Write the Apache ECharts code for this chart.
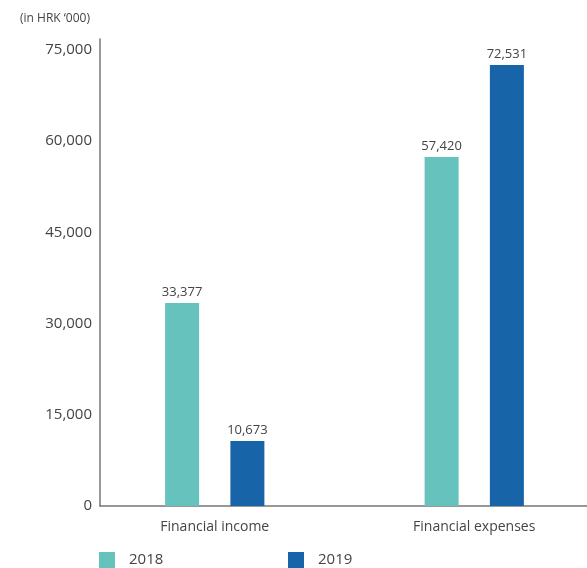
<!DOCTYPE html>
<html><head><meta charset="utf-8">
<script src="https://cdn.jsdelivr.net/npm/echarts@6/dist/echarts.min.js"></script>
<style>html,body{margin:0;padding:0;background:#fff;overflow:hidden;width:587px;height:568px}#c{width:604px;height:568px}</style>
</head><body><div id="c"></div>
<script>
const categories = ['Financial income', 'Financial expenses'];
const values2018 = [33377, 57420];
const values2019 = [10673, 72531];
const seriesNames = ['2018', '2019'];
const yTicks = [0, 15000, 30000, 45000, 60000, 75000];

const font = '"Open Sans", "Noto Sans", sans-serif';
const txt = '#444';
const fmt = v => v.toLocaleString('en-US');
const chart = echarts.init(document.getElementById('c'));
chart.setOption({
  animation: false,
  textStyle: { fontFamily: font },
  title: { text: "(in HRK ‘000)", left: 15, top: 8, textStyle: { fontSize: 12, fontWeight: 'normal', color: txt, fontFamily: font } },
  grid: [
    { left: 100, right: 0, top: 39, bottom: 62 },
    { left: 85, right: 0, top: 50, bottom: 62 }
  ],
  xAxis: [
    { gridIndex: 0, type: 'value', min: 0, max: 1, axisLine: { show: true, lineStyle: { color: '#777', width: 1.5 } }, axisTick: { show: false }, axisLabel: { show: false }, splitLine: { show: false } },
    { gridIndex: 1, type: 'category', data: categories, axisLine: { show: false }, axisTick: { show: false },
      axisLabel: { color: txt, fontSize: 14, margin: 14, fontFamily: font } }
  ],
  yAxis: [
    { gridIndex: 0, type: 'value', min: 0, max: 1, axisLine: { show: true, lineStyle: { color: '#777', width: 1.5 } }, axisTick: { show: false }, axisLabel: { show: false }, splitLine: { show: false } },
    { gridIndex: 1, type: 'value', min: yTicks[0], max: yTicks[yTicks.length - 1], interval: yTicks[1] - yTicks[0], offset: -15,
      axisLine: { show: false }, axisTick: { show: false }, splitLine: { show: false },
      axisLabel: { color: txt, fontSize: 15, margin: 8, formatter: v => fmt(v), fontFamily: font } }
  ],
  legend: [
    { data: [seriesNames[0]], left: 94, top: 547, itemWidth: 16, itemHeight: 16, icon: 'rect', textStyle: { fontSize: 15, color: txt, padding: [0, 0, 0, 9], fontFamily: font } },
    { data: [seriesNames[1]], left: 283, top: 547, itemWidth: 16, itemHeight: 16, icon: 'rect', textStyle: { fontSize: 15, color: txt, padding: [0, 0, 0, 9], fontFamily: font } }
  ],
  series: [
    { name: seriesNames[0], type: 'bar', xAxisIndex: 1, yAxisIndex: 1, data: values2018, barWidth: 34, barGap: '92%',
      itemStyle: { color: '#66c2bd' },
      label: { show: true, position: 'top', distance: 4, color: txt, fontSize: 13, formatter: p => fmt(p.value), fontFamily: font } },
    { name: seriesNames[1], type: 'bar', xAxisIndex: 1, yAxisIndex: 1, data: values2019, barWidth: 34, barGap: '92%',
      itemStyle: { color: '#1764a8' },
      label: { show: true, position: 'top', distance: 4, color: txt, fontSize: 13, formatter: p => fmt(p.value), fontFamily: font } }
  ]
});
</script></body></html>
